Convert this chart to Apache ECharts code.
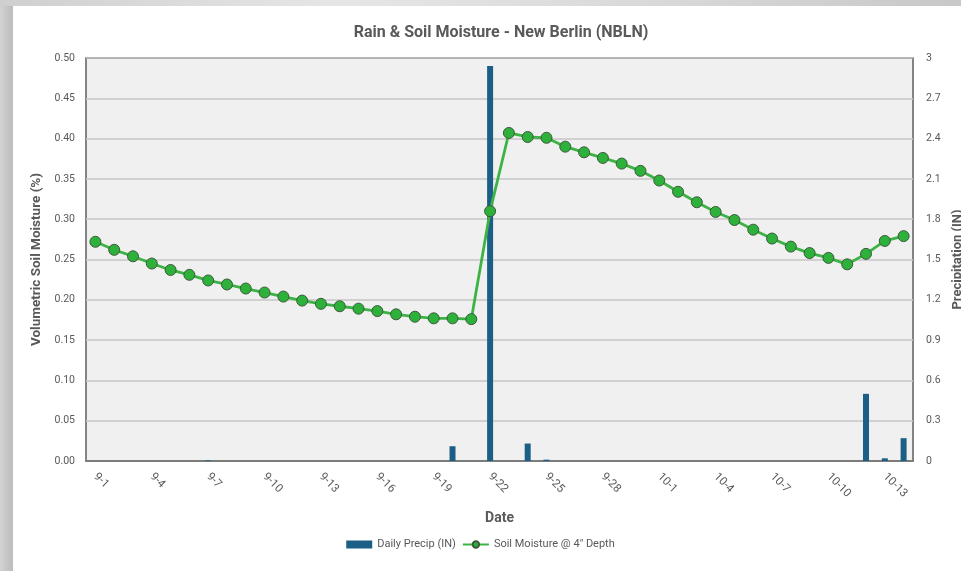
<!DOCTYPE html>
<html>
<head>
<meta charset="utf-8">
<script src="https://cdn.jsdelivr.net/npm/echarts@6/dist/echarts.min.js"></script>
<style>
  html, body { margin: 0; padding: 0; background: #ffffff; }
  #chart { width: 961px; height: 571px; }
</style>
</head>
<body>
<div id="chart"></div>
<script>
// Daily dates, 1 Sep – 14 Oct
const dates = [
  '9-1','9-2','9-3','9-4','9-5','9-6','9-7','9-8','9-9','9-10',
  '9-11','9-12','9-13','9-14','9-15','9-16','9-17','9-18','9-19','9-20',
  '9-21','9-22','9-23','9-24','9-25','9-26','9-27','9-28','9-29','9-30',
  '10-1','10-2','10-3','10-4','10-5','10-6','10-7','10-8','10-9','10-10',
  '10-11','10-12','10-13','10-14'
];

// Daily precipitation (inches)
const dailyPrecip = [
  0, 0, 0, 0, 0, 0, 0.005, 0, 0, 0,
  0, 0, 0, 0, 0, 0, 0, 0, 0, 0.11,
  0, 2.94, 0, 0.13, 0.01, 0, 0, 0, 0, 0,
  0, 0, 0, 0, 0, 0, 0, 0, 0, 0,
  0, 0.50, 0.02, 0.17
];

// Volumetric soil moisture at 4" depth
const soilMoisture = [
  0.272, 0.262, 0.254, 0.245, 0.237, 0.231, 0.224, 0.219, 0.214, 0.209,
  0.204, 0.199, 0.195, 0.192, 0.189, 0.186, 0.182, 0.179, 0.177, 0.177,
  0.176, 0.310, 0.407, 0.402, 0.401, 0.390, 0.383, 0.376, 0.369, 0.360,
  0.348, 0.334, 0.321, 0.309, 0.299, 0.287, 0.276, 0.266, 0.258, 0.252,
  0.244, 0.257, 0.273, 0.279
];

const leftTicks = { min: 0, max: 0.5, interval: 0.05 };
const rightTicks = { min: 0, max: 3, interval: 0.3 };

const textGrey = '#595959';
const fontFamily = 'Roboto, "Open Sans", sans-serif';

const chart = echarts.init(document.getElementById('chart'));

chart.setOption({
  backgroundColor: '#ffffff',
  animation: false,
  textStyle: { fontFamily: fontFamily, color: textGrey },
  graphic: [
    {
      type: 'rect', left: 0, top: 0, z: -10,
      shape: { width: 13, height: 571 },
      style: {
        fill: new echarts.graphic.LinearGradient(0, 0, 1, 0, [
          { offset: 0, color: '#d4d4d4' },
          { offset: 0.6, color: '#c4c4c4' },
          { offset: 1, color: '#bdbdbd' }
        ])
      }
    },
    {
      type: 'rect', left: 0, top: 0, z: -10,
      shape: { width: 961, height: 6 },
      style: {
        fill: new echarts.graphic.LinearGradient(0, 0, 1, 0, [
          { offset: 0, color: '#cfcfcf' },
          { offset: 0.35, color: '#e6e6e6' },
          { offset: 0.7, color: '#d8d8d8' },
          { offset: 1, color: '#c8c8c8' }
        ])
      }
    }
  ],
  title: {
    text: 'Rain & Soil Moisture - New Berlin (NBLN)',
    left: 496,
    textAlign: 'center',
    top: 20,
    textStyle: { fontSize: 16, fontWeight: 'bold', color: textGrey, fontFamily: fontFamily }
  },
  legend: {
    bottom: 16,
    left: 'center',
    itemGap: 6,
    itemWidth: 26,
    itemHeight: 8,
    textStyle: { fontSize: 11, color: textGrey },
    data: [
      { name: 'Daily Precip (IN)', icon: 'rect' },
      { name: 'Soil Moisture @ 4" Depth' }
    ]
  },
  grid: {
    left: 86, right: 48, top: 58, bottom: 110,
    outerBoundsMode: 'none',
    containLabel: false,
    show: true,
    backgroundColor: '#f0f0f0',
    borderColor: '#5e5e5e',
    borderWidth: 1.5
  },
  xAxis: {
    type: 'category',
    data: dates,
    boundaryGap: true,
    name: 'Date',
    nameLocation: 'middle',
    nameGap: 50,
    nameTextStyle: { fontSize: 14, fontWeight: 'bold', color: textGrey },
    axisLine: { show: true, lineStyle: { color: '#6a6a6a', width: 1.5 } },
    axisTick: { show: false },
    axisLabel: {
      interval: 2,
      rotate: -45,
      fontSize: 11.5,
      color: textGrey,
      margin: 14
    }
  },
  yAxis: [
    {
      type: 'value',
      min: leftTicks.min, max: leftTicks.max, interval: leftTicks.interval,
      name: 'Volumetric Soil Moisture (%)',
      nameLocation: 'middle',
      nameGap: 41,
      nameTextStyle: { fontSize: 13.5, fontWeight: 'bold', color: textGrey },
      axisLine: { show: false },
      axisTick: { show: false },
      axisLabel: {
        fontSize: 10.5, color: textGrey, margin: 11,
        formatter: v => v.toFixed(2)
      },
      splitLine: { lineStyle: { color: '#c6c6c6', width: 1.5 } }
    },
    {
      type: 'value',
      min: rightTicks.min, max: rightTicks.max, interval: rightTicks.interval,
      name: 'Precipitation (IN)',
      nameLocation: 'middle',
      nameGap: 32,
      nameRotate: 90,
      nameTextStyle: { fontSize: 13, fontWeight: 'bold', color: textGrey },
      axisLine: { show: false },
      axisTick: { show: false },
      axisLabel: {
        fontSize: 10.5, color: textGrey, margin: 13,
        formatter: v => (Math.round(v * 10) / 10).toString()
      },
      splitLine: { show: false }
    }
  ],
  series: [
    {
      name: 'Daily Precip (IN)',
      type: 'bar',
      yAxisIndex: 1,
      data: dailyPrecip,
      barWidth: 6,
      itemStyle: { color: '#1b5f86' },
      z: 2
    },
    {
      name: 'Soil Moisture @ 4" Depth',
      type: 'line',
      yAxisIndex: 0,
      data: soilMoisture,
      symbol: 'circle',
      symbolSize: 11,
      lineStyle: { color: '#3db346', width: 2.8 },
      itemStyle: { color: '#2eb13a', borderColor: '#3d5a3d', borderWidth: 1 },
      z: 3
    }
  ]
});
</script>
</body>
</html>
